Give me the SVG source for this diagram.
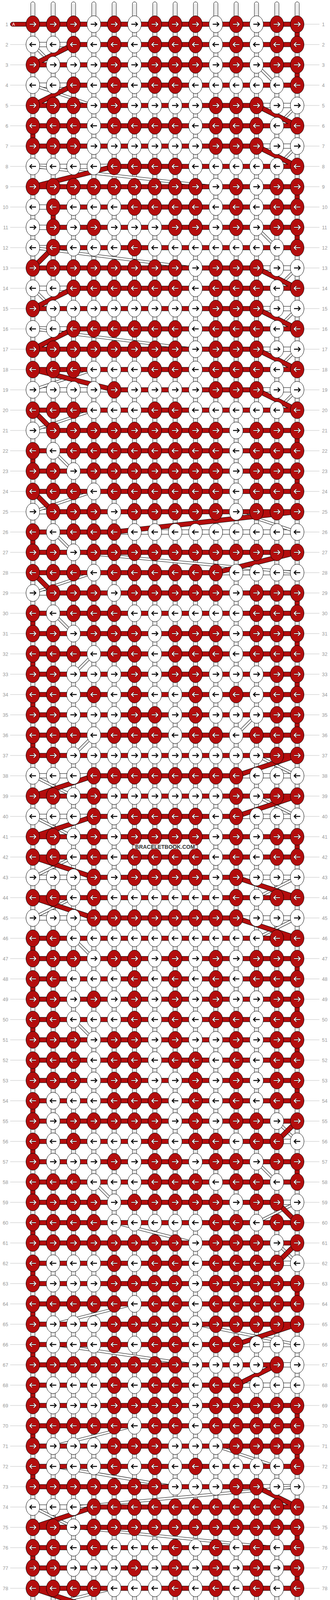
<svg xmlns="http://www.w3.org/2000/svg" xmlns:xlink="http://www.w3.org/1999/xlink" width="844" height="4336" viewBox="0 0 844 4336">
<style>
.lb{font-family:"Liberation Sans",Arial,sans-serif;font-size:12.5px;fill:#999}
.ln{fill:none;stroke:#c0c0c0;stroke-width:1}
.wp{fill:#fff;stroke:#000;stroke-width:1}
.gl{fill:none;stroke:#b4b4b4;stroke-width:1}
.ob{fill:none;stroke:#000;stroke-width:12.7}
.wf{fill:none;stroke:#fff;stroke-width:10.7}
.rf{fill:none;stroke:#b40d0d;stroke-width:10.7}
.so{fill:none;stroke:#000;stroke-width:7}
.sf{fill:none;stroke:#fff;stroke-width:5}
.kr{fill:#b40d0d;stroke:#000;stroke-width:1}
.kw{fill:#fff;stroke:#000;stroke-width:1}
.ao{fill:none;stroke:#300;stroke-width:3.8}
.aw{fill:none;stroke:#fff;stroke-width:2.2}
.ab{fill:none;stroke:#000;stroke-width:2.4}
.pl{fill:#b40d0d;stroke:#000;stroke-width:1}
.pa{font-family:"Liberation Sans",Arial,sans-serif;font-size:11px;fill:#fff}
.wm{font-family:"Liberation Sans",Arial,sans-serif;font-size:15px;font-weight:bold;fill:#333}
</style>
<defs>
<path id="ar" d="M-8 0H6.5M2.2-5.5L7.7 0L2.2 5.5"/>
<path id="al" d="M8 0H-6.5M-2.2-5.5L-7.7 0L-2.2 5.5"/>
<g id="rr"><ellipse class="kr" rx="17.5" ry="21.7"/><use href="#ar" class="ao"/><use href="#ar" class="aw"/></g>
<g id="wr"><ellipse class="kw" rx="17.5" ry="21.7"/><use href="#ar" class="ab"/></g>
<g id="rl"><ellipse class="kr" rx="17.5" ry="21.7"/><use href="#al" class="ao"/><use href="#al" class="aw"/></g>
<g id="wl"><ellipse class="kw" rx="17.5" ry="21.7"/><use href="#al" class="ab"/></g>
<path id="ld" d="M26 0h40.5M777.5 0h39.5"/>
<path id="ldr" d="M777.5 0h39.5"/>
<path id="wbar" d="M84 114H188M84 218H188M84 426H292M84 530H136M84 582H136M84 634H136M84 738H188M84 842H188M84 998H292M84 1102H136M84 1310H136M84 1518H136M84 1986H240M84 2090H240M84 2246H240M84 2350H240M84 3858H240M84 4118H240M84 4170H136M84 4222H240M656 270H760M656 374H760M656 686H760M656 790H760M656 894H760M656 998H760M292 1362H760M552 1466H760M604 1986H760M604 2090H760M604 2246H760M604 2350H760M708 2922H760M708 3078H760M708 3234H760M604 3442H760M708 3494H760M604 3546H760M656 3806H760M656 4222H760"/>
<path id="wstr" d="M84 114L136 166M656 166L708 218M84 218L240 270M760 270L708 322M760 374L708 426M84 426L552 478M656 582L708 634M84 634L500 686M760 686L708 738M84 738L136 790M760 790L708 842M84 842L500 894M760 894L708 946M240 946L84 998M760 998L708 1050M240 1050L84 1102M136 1154L188 1206M240 1258L84 1310M604 1310L760 1362M136 1362L188 1414M188 1414L760 1466M240 1466L84 1518M136 1570L188 1622M240 1674L188 1726M656 1830L604 1882M240 1882L188 1934M656 1934L760 1986M84 1986L188 2038M656 2038L760 2090M84 2090L188 2142M188 2194L84 2246M760 2246L656 2298M188 2298L84 2350M760 2350L656 2402M188 2402L240 2454M188 2610L240 2662M708 2870L760 2922M656 2974L708 3026M240 3026L292 3078M760 3078L656 3130M292 3130L500 3182M708 3182L760 3234M344 3338L136 3390M500 3390L760 3442M136 3442L500 3494M344 3650L136 3702M552 3702L708 3754M136 3754L448 3806M760 3806L188 3858M84 3858L188 3910M188 3910L708 3962M292 4066L84 4118M188 4118L708 4170M760 4222L708 4274"/>
<path id="red" d="M84 62H760M188 114H760M84 166H760M188 218H760M84 270H656M84 322H760M84 374H656M292 426H760M84 478H760M136 530H760M136 582H760M136 634H760M84 686H656M188 738H760M84 790H656M188 842H760M84 894H656M84 946H760M292 998H656M84 1050H760M136 1102H760M84 1154H760M84 1206H760M84 1258H760M136 1310H760M84 1362H292M84 1414H760M84 1466H552M136 1518H760M84 1570H760M84 1622H760M84 1674H760M84 1726H760M84 1778H760M84 1830H760M84 1882H760M84 1934H760M240 1986H604M84 2038H760M240 2090H604M84 2142H760M84 2194H760M240 2246H604M84 2298H760M240 2350H604M84 2402H760M84 2454H760M84 2506H760M84 2558H760M84 2610H760M84 2662H760M84 2714H760M84 2766H760M84 2818H760M84 2870H760M84 2922H708M84 2974H760M84 3026H760M84 3078H708M84 3130H760M84 3182H760M84 3234H708M84 3286H760M84 3338H760M84 3390H760M84 3442H604M84 3494H708M84 3546H604M84 3598H760M84 3650H760M84 3702H760M84 3754H760M84 3806H656M240 3858H760M84 3910H760M84 3962H760M84 4014H760M84 4066H760M240 4118H760M136 4170H760M240 4222H656M84 4274H760M760 62V114M188 114L84 166M760 166V218M188 218L84 270M656 270L760 322M84 322V374M656 374L760 426M292 426L84 478M760 478V530M136 530V582M760 582V634M136 634L84 686M656 686L760 738M188 738L84 790M656 790L760 842M188 842L84 894M656 894L760 946M84 946L292 998M656 998L760 1050M84 1050L136 1102M760 1102V1154M84 1154V1206M760 1206V1258M84 1258L136 1310M760 1310L292 1362M84 1362V1414M760 1414L552 1466M84 1466L136 1518M760 1518V1570M84 1570V1622M760 1622V1674M84 1674V1726M760 1726V1778M84 1778V1830M760 1830V1882M84 1882V1934M760 1934L604 1986M240 1986L84 2038M760 2038L604 2090M240 2090L84 2142M760 2142V2194M84 2194L240 2246M604 2246L760 2298M84 2298L240 2350M604 2350L760 2402M84 2402V2454M760 2454V2506M84 2506V2558M760 2558V2610M84 2610V2662M760 2662V2714M84 2714V2766M760 2766V2818M84 2818V2870M760 2870L708 2922M84 2922V2974M760 2974V3026M84 3026V3078M708 3078L760 3130M84 3130V3182M760 3182L708 3234M84 3234V3286M760 3286V3338M84 3338V3390M760 3390L604 3442M84 3442V3494M708 3494L604 3546M84 3546V3598M760 3598V3650M84 3650V3702M760 3702V3754M84 3754V3806M656 3806L760 3858M240 3858L84 3910M760 3910V3962M84 3962V4014M760 4014V4066M84 4066L240 4118M760 4118V4170M136 4170L240 4222M656 4222L760 4274"/>
</defs>
<rect width="844" height="4336" fill="#fff"/>
<g id="strings">
<rect class="wp" x="78.65" y="4.7" width="10.7" height="4326.6" rx="5.35"/>
<rect class="wp" x="130.65" y="4.7" width="10.7" height="4326.6" rx="5.35"/>
<rect class="wp" x="182.65" y="4.7" width="10.7" height="4326.6" rx="5.35"/>
<rect class="wp" x="234.65" y="4.7" width="10.7" height="4326.6" rx="5.35"/>
<rect class="wp" x="286.65" y="4.7" width="10.7" height="4326.6" rx="5.35"/>
<rect class="wp" x="338.65" y="4.7" width="10.7" height="4326.6" rx="5.35"/>
<rect class="wp" x="390.65" y="4.7" width="10.7" height="4326.6" rx="5.35"/>
<rect class="wp" x="442.65" y="4.7" width="10.7" height="4326.6" rx="5.35"/>
<rect class="wp" x="494.65" y="4.7" width="10.7" height="4326.6" rx="5.35"/>
<rect class="wp" x="546.65" y="4.7" width="10.7" height="4326.6" rx="5.35"/>
<rect class="wp" x="598.65" y="4.7" width="10.7" height="4326.6" rx="5.35"/>
<rect class="wp" x="650.65" y="4.7" width="10.7" height="4326.6" rx="5.35"/>
<rect class="wp" x="702.65" y="4.7" width="10.7" height="4326.6" rx="5.35"/>
<rect class="wp" x="754.65" y="4.7" width="10.7" height="4326.6" rx="5.35"/>
<path class="gl" d="M82 10V4326M86 10V4326M134 10V4326M138 10V4326M186 10V4326M190 10V4326M238 10V4326M242 10V4326M290 10V4326M294 10V4326M342 10V4326M346 10V4326M394 10V4326M398 10V4326M446 10V4326M450 10V4326M498 10V4326M502 10V4326M550 10V4326M554 10V4326M602 10V4326M606 10V4326M654 10V4326M658 10V4326M706 10V4326M710 10V4326M758 10V4326M762 10V4326"/>
</g>
<g id="connectors">
<use href="#wbar" class="ob"/><use href="#wbar" class="wf"/>
<use href="#wstr" class="so"/><use href="#wstr" class="sf"/>
<use href="#red" class="ob"/><use href="#red" class="rf"/>
<rect class="pl" x="26.5" y="56.65" width="62" height="10.7" rx="5.35"/>
<rect class="pl" x="26.5" y="4268.65" width="62" height="10.7" rx="5.35"/>
<text class="pa" x="31" y="66">A</text>
<text class="pa" x="31" y="4278">A</text>
</g>
<g id="knots">
<g id="row1" transform="translate(0,62)"><use href="#ldr" class="ln"/><text class="lb" x="21" y="4.5" text-anchor="end">1</text><text class="lb" x="823.5" y="4.5">1</text><use id="k1-1" href="#rr" x="84"/><use id="k1-2" href="#rr" x="136"/><use id="k1-3" href="#rr" x="188"/><use id="k1-4" href="#wr" x="240"/><use id="k1-5" href="#rr" x="292"/><use id="k1-6" href="#wr" x="344"/><use id="k1-7" href="#rr" x="396"/><use id="k1-8" href="#rr" x="448"/><use id="k1-9" href="#rr" x="500"/><use id="k1-10" href="#wr" x="552"/><use id="k1-11" href="#rr" x="604"/><use id="k1-12" href="#wr" x="656"/><use id="k1-13" href="#rr" x="708"/><use id="k1-14" href="#rr" x="760"/></g>
<g id="row2" transform="translate(0,114)"><use href="#ld" class="ln"/><text class="lb" x="21" y="4.5" text-anchor="end">2</text><text class="lb" x="823.5" y="4.5">2</text><use id="k2-1" href="#wl" x="84"/><use id="k2-2" href="#wl" x="136"/><use id="k2-3" href="#rl" x="188"/><use id="k2-4" href="#wl" x="240"/><use id="k2-5" href="#rl" x="292"/><use id="k2-6" href="#wl" x="344"/><use id="k2-7" href="#rl" x="396"/><use id="k2-8" href="#rl" x="448"/><use id="k2-9" href="#rl" x="500"/><use id="k2-10" href="#wl" x="552"/><use id="k2-11" href="#rl" x="604"/><use id="k2-12" href="#wl" x="656"/><use id="k2-13" href="#rl" x="708"/><use id="k2-14" href="#rl" x="760"/></g>
<g id="row3" transform="translate(0,166)"><use href="#ld" class="ln"/><text class="lb" x="21" y="4.5" text-anchor="end">3</text><text class="lb" x="823.5" y="4.5">3</text><use id="k3-1" href="#rr" x="84"/><use id="k3-2" href="#wr" x="136"/><use id="k3-3" href="#wr" x="188"/><use id="k3-4" href="#wr" x="240"/><use id="k3-5" href="#rr" x="292"/><use id="k3-6" href="#wr" x="344"/><use id="k3-7" href="#rr" x="396"/><use id="k3-8" href="#rr" x="448"/><use id="k3-9" href="#rr" x="500"/><use id="k3-10" href="#wr" x="552"/><use id="k3-11" href="#rr" x="604"/><use id="k3-12" href="#wr" x="656"/><use id="k3-13" href="#rr" x="708"/><use id="k3-14" href="#rr" x="760"/></g>
<g id="row4" transform="translate(0,218)"><use href="#ld" class="ln"/><text class="lb" x="21" y="4.5" text-anchor="end">4</text><text class="lb" x="823.5" y="4.5">4</text><use id="k4-1" href="#wl" x="84"/><use id="k4-2" href="#wl" x="136"/><use id="k4-3" href="#rl" x="188"/><use id="k4-4" href="#wl" x="240"/><use id="k4-5" href="#rl" x="292"/><use id="k4-6" href="#wl" x="344"/><use id="k4-7" href="#rl" x="396"/><use id="k4-8" href="#rl" x="448"/><use id="k4-9" href="#wl" x="500"/><use id="k4-10" href="#wl" x="552"/><use id="k4-11" href="#wl" x="604"/><use id="k4-12" href="#wl" x="656"/><use id="k4-13" href="#wl" x="708"/><use id="k4-14" href="#rl" x="760"/></g>
<g id="row5" transform="translate(0,270)"><use href="#ld" class="ln"/><text class="lb" x="21" y="4.5" text-anchor="end">5</text><text class="lb" x="823.5" y="4.5">5</text><use id="k5-1" href="#rr" x="84"/><use id="k5-2" href="#rr" x="136"/><use id="k5-3" href="#rr" x="188"/><use id="k5-4" href="#wr" x="240"/><use id="k5-5" href="#rr" x="292"/><use id="k5-6" href="#wr" x="344"/><use id="k5-7" href="#wr" x="396"/><use id="k5-8" href="#wr" x="448"/><use id="k5-9" href="#wr" x="500"/><use id="k5-10" href="#rr" x="552"/><use id="k5-11" href="#rr" x="604"/><use id="k5-12" href="#rr" x="656"/><use id="k5-13" href="#wr" x="708"/><use id="k5-14" href="#wr" x="760"/></g>
<g id="row6" transform="translate(0,322)"><use href="#ld" class="ln"/><text class="lb" x="21" y="4.5" text-anchor="end">6</text><text class="lb" x="823.5" y="4.5">6</text><use id="k6-1" href="#rl" x="84"/><use id="k6-2" href="#rl" x="136"/><use id="k6-3" href="#rl" x="188"/><use id="k6-4" href="#wl" x="240"/><use id="k6-5" href="#rl" x="292"/><use id="k6-6" href="#rl" x="344"/><use id="k6-7" href="#rl" x="396"/><use id="k6-8" href="#rl" x="448"/><use id="k6-9" href="#wl" x="500"/><use id="k6-10" href="#rl" x="552"/><use id="k6-11" href="#rl" x="604"/><use id="k6-12" href="#rl" x="656"/><use id="k6-13" href="#wl" x="708"/><use id="k6-14" href="#rl" x="760"/></g>
<g id="row7" transform="translate(0,374)"><use href="#ld" class="ln"/><text class="lb" x="21" y="4.5" text-anchor="end">7</text><text class="lb" x="823.5" y="4.5">7</text><use id="k7-1" href="#rr" x="84"/><use id="k7-2" href="#rr" x="136"/><use id="k7-3" href="#rr" x="188"/><use id="k7-4" href="#wr" x="240"/><use id="k7-5" href="#wr" x="292"/><use id="k7-6" href="#wr" x="344"/><use id="k7-7" href="#wr" x="396"/><use id="k7-8" href="#wr" x="448"/><use id="k7-9" href="#wr" x="500"/><use id="k7-10" href="#rr" x="552"/><use id="k7-11" href="#rr" x="604"/><use id="k7-12" href="#rr" x="656"/><use id="k7-13" href="#wr" x="708"/><use id="k7-14" href="#wr" x="760"/></g>
<g id="row8" transform="translate(0,426)"><use href="#ld" class="ln"/><text class="lb" x="21" y="4.5" text-anchor="end">8</text><text class="lb" x="823.5" y="4.5">8</text><use id="k8-1" href="#wl" x="84"/><use id="k8-2" href="#wl" x="136"/><use id="k8-3" href="#wl" x="188"/><use id="k8-4" href="#wl" x="240"/><use id="k8-5" href="#rl" x="292"/><use id="k8-6" href="#rl" x="344"/><use id="k8-7" href="#rl" x="396"/><use id="k8-8" href="#rl" x="448"/><use id="k8-9" href="#wl" x="500"/><use id="k8-10" href="#wl" x="552"/><use id="k8-11" href="#wl" x="604"/><use id="k8-12" href="#wl" x="656"/><use id="k8-13" href="#wl" x="708"/><use id="k8-14" href="#rl" x="760"/></g>
<g id="row9" transform="translate(0,478)"><use href="#ld" class="ln"/><text class="lb" x="21" y="4.5" text-anchor="end">9</text><text class="lb" x="823.5" y="4.5">9</text><use id="k9-1" href="#rr" x="84"/><use id="k9-2" href="#rr" x="136"/><use id="k9-3" href="#rr" x="188"/><use id="k9-4" href="#rr" x="240"/><use id="k9-5" href="#rr" x="292"/><use id="k9-6" href="#rr" x="344"/><use id="k9-7" href="#rr" x="396"/><use id="k9-8" href="#rr" x="448"/><use id="k9-9" href="#rr" x="500"/><use id="k9-10" href="#wr" x="552"/><use id="k9-11" href="#rr" x="604"/><use id="k9-12" href="#wr" x="656"/><use id="k9-13" href="#rr" x="708"/><use id="k9-14" href="#rr" x="760"/></g>
<g id="row10" transform="translate(0,530)"><use href="#ld" class="ln"/><text class="lb" x="21" y="4.5" text-anchor="end">10</text><text class="lb" x="823.5" y="4.5">10</text><use id="k10-1" href="#wl" x="84"/><use id="k10-2" href="#rl" x="136"/><use id="k10-3" href="#wl" x="188"/><use id="k10-4" href="#wl" x="240"/><use id="k10-5" href="#wl" x="292"/><use id="k10-6" href="#rl" x="344"/><use id="k10-7" href="#rl" x="396"/><use id="k10-8" href="#rl" x="448"/><use id="k10-9" href="#rl" x="500"/><use id="k10-10" href="#wl" x="552"/><use id="k10-11" href="#rl" x="604"/><use id="k10-12" href="#wl" x="656"/><use id="k10-13" href="#rl" x="708"/><use id="k10-14" href="#rl" x="760"/></g>
<g id="row11" transform="translate(0,582)"><use href="#ld" class="ln"/><text class="lb" x="21" y="4.5" text-anchor="end">11</text><text class="lb" x="823.5" y="4.5">11</text><use id="k11-1" href="#wr" x="84"/><use id="k11-2" href="#rr" x="136"/><use id="k11-3" href="#wr" x="188"/><use id="k11-4" href="#rr" x="240"/><use id="k11-5" href="#wr" x="292"/><use id="k11-6" href="#wr" x="344"/><use id="k11-7" href="#wr" x="396"/><use id="k11-8" href="#rr" x="448"/><use id="k11-9" href="#rr" x="500"/><use id="k11-10" href="#wr" x="552"/><use id="k11-11" href="#rr" x="604"/><use id="k11-12" href="#wr" x="656"/><use id="k11-13" href="#rr" x="708"/><use id="k11-14" href="#rr" x="760"/></g>
<g id="row12" transform="translate(0,634)"><use href="#ld" class="ln"/><text class="lb" x="21" y="4.5" text-anchor="end">12</text><text class="lb" x="823.5" y="4.5">12</text><use id="k12-1" href="#wl" x="84"/><use id="k12-2" href="#rl" x="136"/><use id="k12-3" href="#wl" x="188"/><use id="k12-4" href="#wl" x="240"/><use id="k12-5" href="#wl" x="292"/><use id="k12-6" href="#rl" x="344"/><use id="k12-7" href="#wl" x="396"/><use id="k12-8" href="#wl" x="448"/><use id="k12-9" href="#wl" x="500"/><use id="k12-10" href="#wl" x="552"/><use id="k12-11" href="#wl" x="604"/><use id="k12-12" href="#wl" x="656"/><use id="k12-13" href="#wl" x="708"/><use id="k12-14" href="#rl" x="760"/></g>
<g id="row13" transform="translate(0,686)"><use href="#ld" class="ln"/><text class="lb" x="21" y="4.5" text-anchor="end">13</text><text class="lb" x="823.5" y="4.5">13</text><use id="k13-1" href="#rr" x="84"/><use id="k13-2" href="#rr" x="136"/><use id="k13-3" href="#rr" x="188"/><use id="k13-4" href="#rr" x="240"/><use id="k13-5" href="#rr" x="292"/><use id="k13-6" href="#rr" x="344"/><use id="k13-7" href="#rr" x="396"/><use id="k13-8" href="#rr" x="448"/><use id="k13-9" href="#wr" x="500"/><use id="k13-10" href="#rr" x="552"/><use id="k13-11" href="#rr" x="604"/><use id="k13-12" href="#rr" x="656"/><use id="k13-13" href="#wr" x="708"/><use id="k13-14" href="#wr" x="760"/></g>
<g id="row14" transform="translate(0,738)"><use href="#ld" class="ln"/><text class="lb" x="21" y="4.5" text-anchor="end">14</text><text class="lb" x="823.5" y="4.5">14</text><use id="k14-1" href="#wl" x="84"/><use id="k14-2" href="#wl" x="136"/><use id="k14-3" href="#rl" x="188"/><use id="k14-4" href="#rl" x="240"/><use id="k14-5" href="#rl" x="292"/><use id="k14-6" href="#rl" x="344"/><use id="k14-7" href="#rl" x="396"/><use id="k14-8" href="#rl" x="448"/><use id="k14-9" href="#wl" x="500"/><use id="k14-10" href="#rl" x="552"/><use id="k14-11" href="#rl" x="604"/><use id="k14-12" href="#rl" x="656"/><use id="k14-13" href="#wl" x="708"/><use id="k14-14" href="#rl" x="760"/></g>
<g id="row15" transform="translate(0,790)"><use href="#ld" class="ln"/><text class="lb" x="21" y="4.5" text-anchor="end">15</text><text class="lb" x="823.5" y="4.5">15</text><use id="k15-1" href="#rr" x="84"/><use id="k15-2" href="#wr" x="136"/><use id="k15-3" href="#wr" x="188"/><use id="k15-4" href="#wr" x="240"/><use id="k15-5" href="#wr" x="292"/><use id="k15-6" href="#wr" x="344"/><use id="k15-7" href="#wr" x="396"/><use id="k15-8" href="#wr" x="448"/><use id="k15-9" href="#wr" x="500"/><use id="k15-10" href="#rr" x="552"/><use id="k15-11" href="#rr" x="604"/><use id="k15-12" href="#rr" x="656"/><use id="k15-13" href="#wr" x="708"/><use id="k15-14" href="#wr" x="760"/></g>
<g id="row16" transform="translate(0,842)"><use href="#ld" class="ln"/><text class="lb" x="21" y="4.5" text-anchor="end">16</text><text class="lb" x="823.5" y="4.5">16</text><use id="k16-1" href="#wl" x="84"/><use id="k16-2" href="#wl" x="136"/><use id="k16-3" href="#rl" x="188"/><use id="k16-4" href="#rl" x="240"/><use id="k16-5" href="#rl" x="292"/><use id="k16-6" href="#rl" x="344"/><use id="k16-7" href="#rl" x="396"/><use id="k16-8" href="#rl" x="448"/><use id="k16-9" href="#wl" x="500"/><use id="k16-10" href="#rl" x="552"/><use id="k16-11" href="#rl" x="604"/><use id="k16-12" href="#rl" x="656"/><use id="k16-13" href="#wl" x="708"/><use id="k16-14" href="#rl" x="760"/></g>
<g id="row17" transform="translate(0,894)"><use href="#ld" class="ln"/><text class="lb" x="21" y="4.5" text-anchor="end">17</text><text class="lb" x="823.5" y="4.5">17</text><use id="k17-1" href="#rr" x="84"/><use id="k17-2" href="#rr" x="136"/><use id="k17-3" href="#rr" x="188"/><use id="k17-4" href="#rr" x="240"/><use id="k17-5" href="#rr" x="292"/><use id="k17-6" href="#rr" x="344"/><use id="k17-7" href="#rr" x="396"/><use id="k17-8" href="#rr" x="448"/><use id="k17-9" href="#wr" x="500"/><use id="k17-10" href="#rr" x="552"/><use id="k17-11" href="#rr" x="604"/><use id="k17-12" href="#rr" x="656"/><use id="k17-13" href="#wr" x="708"/><use id="k17-14" href="#wr" x="760"/></g>
<g id="row18" transform="translate(0,946)"><use href="#ld" class="ln"/><text class="lb" x="21" y="4.5" text-anchor="end">18</text><text class="lb" x="823.5" y="4.5">18</text><use id="k18-1" href="#rl" x="84"/><use id="k18-2" href="#rl" x="136"/><use id="k18-3" href="#rl" x="188"/><use id="k18-4" href="#wl" x="240"/><use id="k18-5" href="#wl" x="292"/><use id="k18-6" href="#wl" x="344"/><use id="k18-7" href="#rl" x="396"/><use id="k18-8" href="#rl" x="448"/><use id="k18-9" href="#wl" x="500"/><use id="k18-10" href="#rl" x="552"/><use id="k18-11" href="#rl" x="604"/><use id="k18-12" href="#rl" x="656"/><use id="k18-13" href="#wl" x="708"/><use id="k18-14" href="#rl" x="760"/></g>
<g id="row19" transform="translate(0,998)"><use href="#ld" class="ln"/><text class="lb" x="21" y="4.5" text-anchor="end">19</text><text class="lb" x="823.5" y="4.5">19</text><use id="k19-1" href="#wr" x="84"/><use id="k19-2" href="#wr" x="136"/><use id="k19-3" href="#wr" x="188"/><use id="k19-4" href="#wr" x="240"/><use id="k19-5" href="#rr" x="292"/><use id="k19-6" href="#wr" x="344"/><use id="k19-7" href="#wr" x="396"/><use id="k19-8" href="#wr" x="448"/><use id="k19-9" href="#wr" x="500"/><use id="k19-10" href="#rr" x="552"/><use id="k19-11" href="#rr" x="604"/><use id="k19-12" href="#rr" x="656"/><use id="k19-13" href="#wr" x="708"/><use id="k19-14" href="#wr" x="760"/></g>
<g id="row20" transform="translate(0,1050)"><use href="#ld" class="ln"/><text class="lb" x="21" y="4.5" text-anchor="end">20</text><text class="lb" x="823.5" y="4.5">20</text><use id="k20-1" href="#rl" x="84"/><use id="k20-2" href="#rl" x="136"/><use id="k20-3" href="#rl" x="188"/><use id="k20-4" href="#wl" x="240"/><use id="k20-5" href="#wl" x="292"/><use id="k20-6" href="#wl" x="344"/><use id="k20-7" href="#rl" x="396"/><use id="k20-8" href="#rl" x="448"/><use id="k20-9" href="#wl" x="500"/><use id="k20-10" href="#wl" x="552"/><use id="k20-11" href="#wl" x="604"/><use id="k20-12" href="#wl" x="656"/><use id="k20-13" href="#wl" x="708"/><use id="k20-14" href="#rl" x="760"/></g>
<g id="row21" transform="translate(0,1102)"><use href="#ld" class="ln"/><text class="lb" x="21" y="4.5" text-anchor="end">21</text><text class="lb" x="823.5" y="4.5">21</text><use id="k21-1" href="#wr" x="84"/><use id="k21-2" href="#rr" x="136"/><use id="k21-3" href="#rr" x="188"/><use id="k21-4" href="#rr" x="240"/><use id="k21-5" href="#rr" x="292"/><use id="k21-6" href="#rr" x="344"/><use id="k21-7" href="#rr" x="396"/><use id="k21-8" href="#rr" x="448"/><use id="k21-9" href="#rr" x="500"/><use id="k21-10" href="#rr" x="552"/><use id="k21-11" href="#wr" x="604"/><use id="k21-12" href="#rr" x="656"/><use id="k21-13" href="#rr" x="708"/><use id="k21-14" href="#rr" x="760"/></g>
<g id="row22" transform="translate(0,1154)"><use href="#ld" class="ln"/><text class="lb" x="21" y="4.5" text-anchor="end">22</text><text class="lb" x="823.5" y="4.5">22</text><use id="k22-1" href="#rl" x="84"/><use id="k22-2" href="#wl" x="136"/><use id="k22-3" href="#rl" x="188"/><use id="k22-4" href="#rl" x="240"/><use id="k22-5" href="#rl" x="292"/><use id="k22-6" href="#rl" x="344"/><use id="k22-7" href="#rl" x="396"/><use id="k22-8" href="#rl" x="448"/><use id="k22-9" href="#rl" x="500"/><use id="k22-10" href="#rl" x="552"/><use id="k22-11" href="#wl" x="604"/><use id="k22-12" href="#rl" x="656"/><use id="k22-13" href="#rl" x="708"/><use id="k22-14" href="#rl" x="760"/></g>
<g id="row23" transform="translate(0,1206)"><use href="#ld" class="ln"/><text class="lb" x="21" y="4.5" text-anchor="end">23</text><text class="lb" x="823.5" y="4.5">23</text><use id="k23-1" href="#rr" x="84"/><use id="k23-2" href="#rr" x="136"/><use id="k23-3" href="#wr" x="188"/><use id="k23-4" href="#rr" x="240"/><use id="k23-5" href="#rr" x="292"/><use id="k23-6" href="#rr" x="344"/><use id="k23-7" href="#rr" x="396"/><use id="k23-8" href="#rr" x="448"/><use id="k23-9" href="#rr" x="500"/><use id="k23-10" href="#rr" x="552"/><use id="k23-11" href="#wr" x="604"/><use id="k23-12" href="#rr" x="656"/><use id="k23-13" href="#rr" x="708"/><use id="k23-14" href="#rr" x="760"/></g>
<g id="row24" transform="translate(0,1258)"><use href="#ld" class="ln"/><text class="lb" x="21" y="4.5" text-anchor="end">24</text><text class="lb" x="823.5" y="4.5">24</text><use id="k24-1" href="#rl" x="84"/><use id="k24-2" href="#rl" x="136"/><use id="k24-3" href="#rl" x="188"/><use id="k24-4" href="#wl" x="240"/><use id="k24-5" href="#rl" x="292"/><use id="k24-6" href="#rl" x="344"/><use id="k24-7" href="#rl" x="396"/><use id="k24-8" href="#rl" x="448"/><use id="k24-9" href="#rl" x="500"/><use id="k24-10" href="#rl" x="552"/><use id="k24-11" href="#wl" x="604"/><use id="k24-12" href="#rl" x="656"/><use id="k24-13" href="#rl" x="708"/><use id="k24-14" href="#rl" x="760"/></g>
<g id="row25" transform="translate(0,1310)"><use href="#ld" class="ln"/><text class="lb" x="21" y="4.5" text-anchor="end">25</text><text class="lb" x="823.5" y="4.5">25</text><use id="k25-1" href="#wr" x="84"/><use id="k25-2" href="#rr" x="136"/><use id="k25-3" href="#rr" x="188"/><use id="k25-4" href="#rr" x="240"/><use id="k25-5" href="#wr" x="292"/><use id="k25-6" href="#rr" x="344"/><use id="k25-7" href="#rr" x="396"/><use id="k25-8" href="#rr" x="448"/><use id="k25-9" href="#rr" x="500"/><use id="k25-10" href="#rr" x="552"/><use id="k25-11" href="#wr" x="604"/><use id="k25-12" href="#rr" x="656"/><use id="k25-13" href="#rr" x="708"/><use id="k25-14" href="#rr" x="760"/></g>
<g id="row26" transform="translate(0,1362)"><use href="#ld" class="ln"/><text class="lb" x="21" y="4.5" text-anchor="end">26</text><text class="lb" x="823.5" y="4.5">26</text><use id="k26-1" href="#rl" x="84"/><use id="k26-2" href="#wl" x="136"/><use id="k26-3" href="#rl" x="188"/><use id="k26-4" href="#rl" x="240"/><use id="k26-5" href="#rl" x="292"/><use id="k26-6" href="#wl" x="344"/><use id="k26-7" href="#wl" x="396"/><use id="k26-8" href="#wl" x="448"/><use id="k26-9" href="#wl" x="500"/><use id="k26-10" href="#wl" x="552"/><use id="k26-11" href="#wl" x="604"/><use id="k26-12" href="#wl" x="656"/><use id="k26-13" href="#wl" x="708"/><use id="k26-14" href="#wl" x="760"/></g>
<g id="row27" transform="translate(0,1414)"><use href="#ld" class="ln"/><text class="lb" x="21" y="4.5" text-anchor="end">27</text><text class="lb" x="823.5" y="4.5">27</text><use id="k27-1" href="#rr" x="84"/><use id="k27-2" href="#rr" x="136"/><use id="k27-3" href="#wr" x="188"/><use id="k27-4" href="#rr" x="240"/><use id="k27-5" href="#rr" x="292"/><use id="k27-6" href="#rr" x="344"/><use id="k27-7" href="#rr" x="396"/><use id="k27-8" href="#rr" x="448"/><use id="k27-9" href="#rr" x="500"/><use id="k27-10" href="#rr" x="552"/><use id="k27-11" href="#rr" x="604"/><use id="k27-12" href="#rr" x="656"/><use id="k27-13" href="#rr" x="708"/><use id="k27-14" href="#rr" x="760"/></g>
<g id="row28" transform="translate(0,1466)"><use href="#ld" class="ln"/><text class="lb" x="21" y="4.5" text-anchor="end">28</text><text class="lb" x="823.5" y="4.5">28</text><use id="k28-1" href="#rl" x="84"/><use id="k28-2" href="#rl" x="136"/><use id="k28-3" href="#rl" x="188"/><use id="k28-4" href="#wl" x="240"/><use id="k28-5" href="#rl" x="292"/><use id="k28-6" href="#rl" x="344"/><use id="k28-7" href="#rl" x="396"/><use id="k28-8" href="#rl" x="448"/><use id="k28-9" href="#rl" x="500"/><use id="k28-10" href="#rl" x="552"/><use id="k28-11" href="#wl" x="604"/><use id="k28-12" href="#wl" x="656"/><use id="k28-13" href="#wl" x="708"/><use id="k28-14" href="#wl" x="760"/></g>
<g id="row29" transform="translate(0,1518)"><use href="#ld" class="ln"/><text class="lb" x="21" y="4.5" text-anchor="end">29</text><text class="lb" x="823.5" y="4.5">29</text><use id="k29-1" href="#wr" x="84"/><use id="k29-2" href="#rr" x="136"/><use id="k29-3" href="#rr" x="188"/><use id="k29-4" href="#rr" x="240"/><use id="k29-5" href="#wr" x="292"/><use id="k29-6" href="#rr" x="344"/><use id="k29-7" href="#rr" x="396"/><use id="k29-8" href="#rr" x="448"/><use id="k29-9" href="#rr" x="500"/><use id="k29-10" href="#rr" x="552"/><use id="k29-11" href="#wr" x="604"/><use id="k29-12" href="#rr" x="656"/><use id="k29-13" href="#rr" x="708"/><use id="k29-14" href="#rr" x="760"/></g>
<g id="row30" transform="translate(0,1570)"><use href="#ld" class="ln"/><text class="lb" x="21" y="4.5" text-anchor="end">30</text><text class="lb" x="823.5" y="4.5">30</text><use id="k30-1" href="#rl" x="84"/><use id="k30-2" href="#wl" x="136"/><use id="k30-3" href="#rl" x="188"/><use id="k30-4" href="#rl" x="240"/><use id="k30-5" href="#rl" x="292"/><use id="k30-6" href="#wl" x="344"/><use id="k30-7" href="#wl" x="396"/><use id="k30-8" href="#wl" x="448"/><use id="k30-9" href="#wl" x="500"/><use id="k30-10" href="#wl" x="552"/><use id="k30-11" href="#wl" x="604"/><use id="k30-12" href="#rl" x="656"/><use id="k30-13" href="#rl" x="708"/><use id="k30-14" href="#rl" x="760"/></g>
<g id="row31" transform="translate(0,1622)"><use href="#ld" class="ln"/><text class="lb" x="21" y="4.5" text-anchor="end">31</text><text class="lb" x="823.5" y="4.5">31</text><use id="k31-1" href="#rr" x="84"/><use id="k31-2" href="#rr" x="136"/><use id="k31-3" href="#wr" x="188"/><use id="k31-4" href="#rr" x="240"/><use id="k31-5" href="#rr" x="292"/><use id="k31-6" href="#rr" x="344"/><use id="k31-7" href="#wr" x="396"/><use id="k31-8" href="#rr" x="448"/><use id="k31-9" href="#rr" x="500"/><use id="k31-10" href="#rr" x="552"/><use id="k31-11" href="#wr" x="604"/><use id="k31-12" href="#rr" x="656"/><use id="k31-13" href="#rr" x="708"/><use id="k31-14" href="#rr" x="760"/></g>
<g id="row32" transform="translate(0,1674)"><use href="#ld" class="ln"/><text class="lb" x="21" y="4.5" text-anchor="end">32</text><text class="lb" x="823.5" y="4.5">32</text><use id="k32-1" href="#rl" x="84"/><use id="k32-2" href="#rl" x="136"/><use id="k32-3" href="#rl" x="188"/><use id="k32-4" href="#wl" x="240"/><use id="k32-5" href="#rl" x="292"/><use id="k32-6" href="#rl" x="344"/><use id="k32-7" href="#wl" x="396"/><use id="k32-8" href="#rl" x="448"/><use id="k32-9" href="#rl" x="500"/><use id="k32-10" href="#rl" x="552"/><use id="k32-11" href="#wl" x="604"/><use id="k32-12" href="#rl" x="656"/><use id="k32-13" href="#rl" x="708"/><use id="k32-14" href="#rl" x="760"/></g>
<g id="row33" transform="translate(0,1726)"><use href="#ld" class="ln"/><text class="lb" x="21" y="4.5" text-anchor="end">33</text><text class="lb" x="823.5" y="4.5">33</text><use id="k33-1" href="#rr" x="84"/><use id="k33-2" href="#rr" x="136"/><use id="k33-3" href="#wr" x="188"/><use id="k33-4" href="#wr" x="240"/><use id="k33-5" href="#wr" x="292"/><use id="k33-6" href="#rr" x="344"/><use id="k33-7" href="#wr" x="396"/><use id="k33-8" href="#rr" x="448"/><use id="k33-9" href="#rr" x="500"/><use id="k33-10" href="#wr" x="552"/><use id="k33-11" href="#wr" x="604"/><use id="k33-12" href="#wr" x="656"/><use id="k33-13" href="#rr" x="708"/><use id="k33-14" href="#rr" x="760"/></g>
<g id="row34" transform="translate(0,1778)"><use href="#ld" class="ln"/><text class="lb" x="21" y="4.5" text-anchor="end">34</text><text class="lb" x="823.5" y="4.5">34</text><use id="k34-1" href="#rl" x="84"/><use id="k34-2" href="#rl" x="136"/><use id="k34-3" href="#wl" x="188"/><use id="k34-4" href="#rl" x="240"/><use id="k34-5" href="#wl" x="292"/><use id="k34-6" href="#rl" x="344"/><use id="k34-7" href="#wl" x="396"/><use id="k34-8" href="#wl" x="448"/><use id="k34-9" href="#rl" x="500"/><use id="k34-10" href="#wl" x="552"/><use id="k34-11" href="#rl" x="604"/><use id="k34-12" href="#wl" x="656"/><use id="k34-13" href="#rl" x="708"/><use id="k34-14" href="#rl" x="760"/></g>
<g id="row35" transform="translate(0,1830)"><use href="#ld" class="ln"/><text class="lb" x="21" y="4.5" text-anchor="end">35</text><text class="lb" x="823.5" y="4.5">35</text><use id="k35-1" href="#rr" x="84"/><use id="k35-2" href="#rr" x="136"/><use id="k35-3" href="#wr" x="188"/><use id="k35-4" href="#wr" x="240"/><use id="k35-5" href="#wr" x="292"/><use id="k35-6" href="#rr" x="344"/><use id="k35-7" href="#rr" x="396"/><use id="k35-8" href="#wr" x="448"/><use id="k35-9" href="#rr" x="500"/><use id="k35-10" href="#wr" x="552"/><use id="k35-11" href="#wr" x="604"/><use id="k35-12" href="#wr" x="656"/><use id="k35-13" href="#rr" x="708"/><use id="k35-14" href="#rr" x="760"/></g>
<g id="row36" transform="translate(0,1882)"><use href="#ld" class="ln"/><text class="lb" x="21" y="4.5" text-anchor="end">36</text><text class="lb" x="823.5" y="4.5">36</text><use id="k36-1" href="#rl" x="84"/><use id="k36-2" href="#rl" x="136"/><use id="k36-3" href="#rl" x="188"/><use id="k36-4" href="#wl" x="240"/><use id="k36-5" href="#rl" x="292"/><use id="k36-6" href="#rl" x="344"/><use id="k36-7" href="#rl" x="396"/><use id="k36-8" href="#wl" x="448"/><use id="k36-9" href="#rl" x="500"/><use id="k36-10" href="#rl" x="552"/><use id="k36-11" href="#wl" x="604"/><use id="k36-12" href="#rl" x="656"/><use id="k36-13" href="#rl" x="708"/><use id="k36-14" href="#rl" x="760"/></g>
<g id="row37" transform="translate(0,1934)"><use href="#ld" class="ln"/><text class="lb" x="21" y="4.5" text-anchor="end">37</text><text class="lb" x="823.5" y="4.5">37</text><use id="k37-1" href="#rr" x="84"/><use id="k37-2" href="#rr" x="136"/><use id="k37-3" href="#wr" x="188"/><use id="k37-4" href="#wr" x="240"/><use id="k37-5" href="#wr" x="292"/><use id="k37-6" href="#wr" x="344"/><use id="k37-7" href="#wr" x="396"/><use id="k37-8" href="#wr" x="448"/><use id="k37-9" href="#wr" x="500"/><use id="k37-10" href="#wr" x="552"/><use id="k37-11" href="#wr" x="604"/><use id="k37-12" href="#wr" x="656"/><use id="k37-13" href="#rr" x="708"/><use id="k37-14" href="#rr" x="760"/></g>
<g id="row38" transform="translate(0,1986)"><use href="#ld" class="ln"/><text class="lb" x="21" y="4.5" text-anchor="end">38</text><text class="lb" x="823.5" y="4.5">38</text><use id="k38-1" href="#wl" x="84"/><use id="k38-2" href="#wl" x="136"/><use id="k38-3" href="#wl" x="188"/><use id="k38-4" href="#rl" x="240"/><use id="k38-5" href="#rl" x="292"/><use id="k38-6" href="#rl" x="344"/><use id="k38-7" href="#rl" x="396"/><use id="k38-8" href="#rl" x="448"/><use id="k38-9" href="#rl" x="500"/><use id="k38-10" href="#rl" x="552"/><use id="k38-11" href="#rl" x="604"/><use id="k38-12" href="#wl" x="656"/><use id="k38-13" href="#wl" x="708"/><use id="k38-14" href="#wl" x="760"/></g>
<g id="row39" transform="translate(0,2038)"><use href="#ld" class="ln"/><text class="lb" x="21" y="4.5" text-anchor="end">39</text><text class="lb" x="823.5" y="4.5">39</text><use id="k39-1" href="#rr" x="84"/><use id="k39-2" href="#rr" x="136"/><use id="k39-3" href="#wr" x="188"/><use id="k39-4" href="#rr" x="240"/><use id="k39-5" href="#wr" x="292"/><use id="k39-6" href="#wr" x="344"/><use id="k39-7" href="#wr" x="396"/><use id="k39-8" href="#wr" x="448"/><use id="k39-9" href="#wr" x="500"/><use id="k39-10" href="#wr" x="552"/><use id="k39-11" href="#rr" x="604"/><use id="k39-12" href="#wr" x="656"/><use id="k39-13" href="#rr" x="708"/><use id="k39-14" href="#rr" x="760"/></g>
<g id="row40" transform="translate(0,2090)"><use href="#ld" class="ln"/><text class="lb" x="21" y="4.5" text-anchor="end">40</text><text class="lb" x="823.5" y="4.5">40</text><use id="k40-1" href="#wl" x="84"/><use id="k40-2" href="#wl" x="136"/><use id="k40-3" href="#wl" x="188"/><use id="k40-4" href="#rl" x="240"/><use id="k40-5" href="#wl" x="292"/><use id="k40-6" href="#rl" x="344"/><use id="k40-7" href="#rl" x="396"/><use id="k40-8" href="#rl" x="448"/><use id="k40-9" href="#rl" x="500"/><use id="k40-10" href="#wl" x="552"/><use id="k40-11" href="#rl" x="604"/><use id="k40-12" href="#wl" x="656"/><use id="k40-13" href="#wl" x="708"/><use id="k40-14" href="#wl" x="760"/></g>
<g id="row41" transform="translate(0,2142)"><use href="#ld" class="ln"/><text class="lb" x="21" y="4.5" text-anchor="end">41</text><text class="lb" x="823.5" y="4.5">41</text><use id="k41-1" href="#rr" x="84"/><use id="k41-2" href="#rr" x="136"/><use id="k41-3" href="#wr" x="188"/><use id="k41-4" href="#rr" x="240"/><use id="k41-5" href="#wr" x="292"/><use id="k41-6" href="#rr" x="344"/><use id="k41-7" href="#rr" x="396"/><use id="k41-8" href="#rr" x="448"/><use id="k41-9" href="#rr" x="500"/><use id="k41-10" href="#wr" x="552"/><use id="k41-11" href="#rr" x="604"/><use id="k41-12" href="#wr" x="656"/><use id="k41-13" href="#rr" x="708"/><use id="k41-14" href="#rr" x="760"/></g>
<g id="row42" transform="translate(0,2194)"><use href="#ld" class="ln"/><text class="lb" x="21" y="4.5" text-anchor="end">42</text><text class="lb" x="823.5" y="4.5">42</text><use id="k42-1" href="#rl" x="84"/><use id="k42-2" href="#rl" x="136"/><use id="k42-3" href="#wl" x="188"/><use id="k42-4" href="#rl" x="240"/><use id="k42-5" href="#wl" x="292"/><use id="k42-6" href="#rl" x="344"/><use id="k42-7" href="#rl" x="396"/><use id="k42-8" href="#rl" x="448"/><use id="k42-9" href="#rl" x="500"/><use id="k42-10" href="#wl" x="552"/><use id="k42-11" href="#rl" x="604"/><use id="k42-12" href="#wl" x="656"/><use id="k42-13" href="#rl" x="708"/><use id="k42-14" href="#rl" x="760"/></g>
<g id="row43" transform="translate(0,2246)"><use href="#ld" class="ln"/><text class="lb" x="21" y="4.5" text-anchor="end">43</text><text class="lb" x="823.5" y="4.5">43</text><use id="k43-1" href="#wr" x="84"/><use id="k43-2" href="#wr" x="136"/><use id="k43-3" href="#wr" x="188"/><use id="k43-4" href="#rr" x="240"/><use id="k43-5" href="#wr" x="292"/><use id="k43-6" href="#rr" x="344"/><use id="k43-7" href="#rr" x="396"/><use id="k43-8" href="#rr" x="448"/><use id="k43-9" href="#rr" x="500"/><use id="k43-10" href="#wr" x="552"/><use id="k43-11" href="#rr" x="604"/><use id="k43-12" href="#wr" x="656"/><use id="k43-13" href="#wr" x="708"/><use id="k43-14" href="#wr" x="760"/></g>
<g id="row44" transform="translate(0,2298)"><use href="#ld" class="ln"/><text class="lb" x="21" y="4.5" text-anchor="end">44</text><text class="lb" x="823.5" y="4.5">44</text><use id="k44-1" href="#rl" x="84"/><use id="k44-2" href="#rl" x="136"/><use id="k44-3" href="#wl" x="188"/><use id="k44-4" href="#rl" x="240"/><use id="k44-5" href="#wl" x="292"/><use id="k44-6" href="#wl" x="344"/><use id="k44-7" href="#wl" x="396"/><use id="k44-8" href="#wl" x="448"/><use id="k44-9" href="#wl" x="500"/><use id="k44-10" href="#wl" x="552"/><use id="k44-11" href="#rl" x="604"/><use id="k44-12" href="#wl" x="656"/><use id="k44-13" href="#rl" x="708"/><use id="k44-14" href="#rl" x="760"/></g>
<g id="row45" transform="translate(0,2350)"><use href="#ld" class="ln"/><text class="lb" x="21" y="4.5" text-anchor="end">45</text><text class="lb" x="823.5" y="4.5">45</text><use id="k45-1" href="#wr" x="84"/><use id="k45-2" href="#wr" x="136"/><use id="k45-3" href="#wr" x="188"/><use id="k45-4" href="#rr" x="240"/><use id="k45-5" href="#rr" x="292"/><use id="k45-6" href="#rr" x="344"/><use id="k45-7" href="#rr" x="396"/><use id="k45-8" href="#rr" x="448"/><use id="k45-9" href="#rr" x="500"/><use id="k45-10" href="#rr" x="552"/><use id="k45-11" href="#rr" x="604"/><use id="k45-12" href="#wr" x="656"/><use id="k45-13" href="#wr" x="708"/><use id="k45-14" href="#wr" x="760"/></g>
<g id="row46" transform="translate(0,2402)"><use href="#ld" class="ln"/><text class="lb" x="21" y="4.5" text-anchor="end">46</text><text class="lb" x="823.5" y="4.5">46</text><use id="k46-1" href="#rl" x="84"/><use id="k46-2" href="#rl" x="136"/><use id="k46-3" href="#wl" x="188"/><use id="k46-4" href="#wl" x="240"/><use id="k46-5" href="#wl" x="292"/><use id="k46-6" href="#wl" x="344"/><use id="k46-7" href="#wl" x="396"/><use id="k46-8" href="#wl" x="448"/><use id="k46-9" href="#wl" x="500"/><use id="k46-10" href="#wl" x="552"/><use id="k46-11" href="#wl" x="604"/><use id="k46-12" href="#wl" x="656"/><use id="k46-13" href="#rl" x="708"/><use id="k46-14" href="#rl" x="760"/></g>
<g id="row47" transform="translate(0,2454)"><use href="#ld" class="ln"/><text class="lb" x="21" y="4.5" text-anchor="end">47</text><text class="lb" x="823.5" y="4.5">47</text><use id="k47-1" href="#rr" x="84"/><use id="k47-2" href="#rr" x="136"/><use id="k47-3" href="#rr" x="188"/><use id="k47-4" href="#wr" x="240"/><use id="k47-5" href="#rr" x="292"/><use id="k47-6" href="#rr" x="344"/><use id="k47-7" href="#wr" x="396"/><use id="k47-8" href="#rr" x="448"/><use id="k47-9" href="#wr" x="500"/><use id="k47-10" href="#rr" x="552"/><use id="k47-11" href="#wr" x="604"/><use id="k47-12" href="#rr" x="656"/><use id="k47-13" href="#rr" x="708"/><use id="k47-14" href="#rr" x="760"/></g>
<g id="row48" transform="translate(0,2506)"><use href="#ld" class="ln"/><text class="lb" x="21" y="4.5" text-anchor="end">48</text><text class="lb" x="823.5" y="4.5">48</text><use id="k48-1" href="#rl" x="84"/><use id="k48-2" href="#rl" x="136"/><use id="k48-3" href="#wl" x="188"/><use id="k48-4" href="#wl" x="240"/><use id="k48-5" href="#wl" x="292"/><use id="k48-6" href="#rl" x="344"/><use id="k48-7" href="#wl" x="396"/><use id="k48-8" href="#rl" x="448"/><use id="k48-9" href="#wl" x="500"/><use id="k48-10" href="#rl" x="552"/><use id="k48-11" href="#wl" x="604"/><use id="k48-12" href="#rl" x="656"/><use id="k48-13" href="#rl" x="708"/><use id="k48-14" href="#rl" x="760"/></g>
<g id="row49" transform="translate(0,2558)"><use href="#ld" class="ln"/><text class="lb" x="21" y="4.5" text-anchor="end">49</text><text class="lb" x="823.5" y="4.5">49</text><use id="k49-1" href="#rr" x="84"/><use id="k49-2" href="#rr" x="136"/><use id="k49-3" href="#wr" x="188"/><use id="k49-4" href="#rr" x="240"/><use id="k49-5" href="#wr" x="292"/><use id="k49-6" href="#rr" x="344"/><use id="k49-7" href="#wr" x="396"/><use id="k49-8" href="#rr" x="448"/><use id="k49-9" href="#wr" x="500"/><use id="k49-10" href="#rr" x="552"/><use id="k49-11" href="#wr" x="604"/><use id="k49-12" href="#wr" x="656"/><use id="k49-13" href="#rr" x="708"/><use id="k49-14" href="#rr" x="760"/></g>
<g id="row50" transform="translate(0,2610)"><use href="#ld" class="ln"/><text class="lb" x="21" y="4.5" text-anchor="end">50</text><text class="lb" x="823.5" y="4.5">50</text><use id="k50-1" href="#rl" x="84"/><use id="k50-2" href="#rl" x="136"/><use id="k50-3" href="#wl" x="188"/><use id="k50-4" href="#wl" x="240"/><use id="k50-5" href="#wl" x="292"/><use id="k50-6" href="#rl" x="344"/><use id="k50-7" href="#wl" x="396"/><use id="k50-8" href="#rl" x="448"/><use id="k50-9" href="#wl" x="500"/><use id="k50-10" href="#rl" x="552"/><use id="k50-11" href="#rl" x="604"/><use id="k50-12" href="#wl" x="656"/><use id="k50-13" href="#rl" x="708"/><use id="k50-14" href="#rl" x="760"/></g>
<g id="row51" transform="translate(0,2662)"><use href="#ld" class="ln"/><text class="lb" x="21" y="4.5" text-anchor="end">51</text><text class="lb" x="823.5" y="4.5">51</text><use id="k51-1" href="#rr" x="84"/><use id="k51-2" href="#rr" x="136"/><use id="k51-3" href="#rr" x="188"/><use id="k51-4" href="#wr" x="240"/><use id="k51-5" href="#rr" x="292"/><use id="k51-6" href="#rr" x="344"/><use id="k51-7" href="#wr" x="396"/><use id="k51-8" href="#rr" x="448"/><use id="k51-9" href="#wr" x="500"/><use id="k51-10" href="#wr" x="552"/><use id="k51-11" href="#rr" x="604"/><use id="k51-12" href="#wr" x="656"/><use id="k51-13" href="#rr" x="708"/><use id="k51-14" href="#rr" x="760"/></g>
<g id="row52" transform="translate(0,2714)"><use href="#ld" class="ln"/><text class="lb" x="21" y="4.5" text-anchor="end">52</text><text class="lb" x="823.5" y="4.5">52</text><use id="k52-1" href="#rl" x="84"/><use id="k52-2" href="#rl" x="136"/><use id="k52-3" href="#rl" x="188"/><use id="k52-4" href="#wl" x="240"/><use id="k52-5" href="#rl" x="292"/><use id="k52-6" href="#rl" x="344"/><use id="k52-7" href="#wl" x="396"/><use id="k52-8" href="#rl" x="448"/><use id="k52-9" href="#rl" x="500"/><use id="k52-10" href="#wl" x="552"/><use id="k52-11" href="#rl" x="604"/><use id="k52-12" href="#wl" x="656"/><use id="k52-13" href="#rl" x="708"/><use id="k52-14" href="#rl" x="760"/></g>
<g id="row53" transform="translate(0,2766)"><use href="#ld" class="ln"/><text class="lb" x="21" y="4.5" text-anchor="end">53</text><text class="lb" x="823.5" y="4.5">53</text><use id="k53-1" href="#rr" x="84"/><use id="k53-2" href="#rr" x="136"/><use id="k53-3" href="#rr" x="188"/><use id="k53-4" href="#wr" x="240"/><use id="k53-5" href="#rr" x="292"/><use id="k53-6" href="#rr" x="344"/><use id="k53-7" href="#wr" x="396"/><use id="k53-8" href="#wr" x="448"/><use id="k53-9" href="#rr" x="500"/><use id="k53-10" href="#wr" x="552"/><use id="k53-11" href="#rr" x="604"/><use id="k53-12" href="#wr" x="656"/><use id="k53-13" href="#rr" x="708"/><use id="k53-14" href="#rr" x="760"/></g>
<g id="row54" transform="translate(0,2818)"><use href="#ld" class="ln"/><text class="lb" x="21" y="4.5" text-anchor="end">54</text><text class="lb" x="823.5" y="4.5">54</text><use id="k54-1" href="#rl" x="84"/><use id="k54-2" href="#wl" x="136"/><use id="k54-3" href="#wl" x="188"/><use id="k54-4" href="#wl" x="240"/><use id="k54-5" href="#rl" x="292"/><use id="k54-6" href="#rl" x="344"/><use id="k54-7" href="#rl" x="396"/><use id="k54-8" href="#wl" x="448"/><use id="k54-9" href="#rl" x="500"/><use id="k54-10" href="#wl" x="552"/><use id="k54-11" href="#rl" x="604"/><use id="k54-12" href="#wl" x="656"/><use id="k54-13" href="#rl" x="708"/><use id="k54-14" href="#rl" x="760"/></g>
<g id="row55" transform="translate(0,2870)"><use href="#ld" class="ln"/><text class="lb" x="21" y="4.5" text-anchor="end">55</text><text class="lb" x="823.5" y="4.5">55</text><use id="k55-1" href="#rr" x="84"/><use id="k55-2" href="#wr" x="136"/><use id="k55-3" href="#rr" x="188"/><use id="k55-4" href="#rr" x="240"/><use id="k55-5" href="#rr" x="292"/><use id="k55-6" href="#rr" x="344"/><use id="k55-7" href="#rr" x="396"/><use id="k55-8" href="#wr" x="448"/><use id="k55-9" href="#rr" x="500"/><use id="k55-10" href="#wr" x="552"/><use id="k55-11" href="#rr" x="604"/><use id="k55-12" href="#rr" x="656"/><use id="k55-13" href="#wr" x="708"/><use id="k55-14" href="#rr" x="760"/></g>
<g id="row56" transform="translate(0,2922)"><use href="#ld" class="ln"/><text class="lb" x="21" y="4.5" text-anchor="end">56</text><text class="lb" x="823.5" y="4.5">56</text><use id="k56-1" href="#rl" x="84"/><use id="k56-2" href="#wl" x="136"/><use id="k56-3" href="#rl" x="188"/><use id="k56-4" href="#wl" x="240"/><use id="k56-5" href="#wl" x="292"/><use id="k56-6" href="#wl" x="344"/><use id="k56-7" href="#rl" x="396"/><use id="k56-8" href="#wl" x="448"/><use id="k56-9" href="#rl" x="500"/><use id="k56-10" href="#rl" x="552"/><use id="k56-11" href="#wl" x="604"/><use id="k56-12" href="#rl" x="656"/><use id="k56-13" href="#rl" x="708"/><use id="k56-14" href="#wl" x="760"/></g>
<g id="row57" transform="translate(0,2974)"><use href="#ld" class="ln"/><text class="lb" x="21" y="4.5" text-anchor="end">57</text><text class="lb" x="823.5" y="4.5">57</text><use id="k57-1" href="#rr" x="84"/><use id="k57-2" href="#wr" x="136"/><use id="k57-3" href="#wr" x="188"/><use id="k57-4" href="#wr" x="240"/><use id="k57-5" href="#rr" x="292"/><use id="k57-6" href="#wr" x="344"/><use id="k57-7" href="#rr" x="396"/><use id="k57-8" href="#rr" x="448"/><use id="k57-9" href="#wr" x="500"/><use id="k57-10" href="#rr" x="552"/><use id="k57-11" href="#rr" x="604"/><use id="k57-12" href="#wr" x="656"/><use id="k57-13" href="#rr" x="708"/><use id="k57-14" href="#rr" x="760"/></g>
<g id="row58" transform="translate(0,3026)"><use href="#ld" class="ln"/><text class="lb" x="21" y="4.5" text-anchor="end">58</text><text class="lb" x="823.5" y="4.5">58</text><use id="k58-1" href="#rl" x="84"/><use id="k58-2" href="#rl" x="136"/><use id="k58-3" href="#rl" x="188"/><use id="k58-4" href="#wl" x="240"/><use id="k58-5" href="#wl" x="292"/><use id="k58-6" href="#wl" x="344"/><use id="k58-7" href="#rl" x="396"/><use id="k58-8" href="#rl" x="448"/><use id="k58-9" href="#rl" x="500"/><use id="k58-10" href="#wl" x="552"/><use id="k58-11" href="#rl" x="604"/><use id="k58-12" href="#rl" x="656"/><use id="k58-13" href="#wl" x="708"/><use id="k58-14" href="#rl" x="760"/></g>
<g id="row59" transform="translate(0,3078)"><use href="#ld" class="ln"/><text class="lb" x="21" y="4.5" text-anchor="end">59</text><text class="lb" x="823.5" y="4.5">59</text><use id="k59-1" href="#rr" x="84"/><use id="k59-2" href="#rr" x="136"/><use id="k59-3" href="#rr" x="188"/><use id="k59-4" href="#rr" x="240"/><use id="k59-5" href="#wr" x="292"/><use id="k59-6" href="#rr" x="344"/><use id="k59-7" href="#rr" x="396"/><use id="k59-8" href="#rr" x="448"/><use id="k59-9" href="#rr" x="500"/><use id="k59-10" href="#rr" x="552"/><use id="k59-11" href="#wr" x="604"/><use id="k59-12" href="#rr" x="656"/><use id="k59-13" href="#rr" x="708"/><use id="k59-14" href="#wr" x="760"/></g>
<g id="row60" transform="translate(0,3130)"><use href="#ld" class="ln"/><text class="lb" x="21" y="4.5" text-anchor="end">60</text><text class="lb" x="823.5" y="4.5">60</text><use id="k60-1" href="#rl" x="84"/><use id="k60-2" href="#rl" x="136"/><use id="k60-3" href="#rl" x="188"/><use id="k60-4" href="#rl" x="240"/><use id="k60-5" href="#wl" x="292"/><use id="k60-6" href="#wl" x="344"/><use id="k60-7" href="#wl" x="396"/><use id="k60-8" href="#wl" x="448"/><use id="k60-9" href="#wl" x="500"/><use id="k60-10" href="#rl" x="552"/><use id="k60-11" href="#rl" x="604"/><use id="k60-12" href="#wl" x="656"/><use id="k60-13" href="#rl" x="708"/><use id="k60-14" href="#rl" x="760"/></g>
<g id="row61" transform="translate(0,3182)"><use href="#ld" class="ln"/><text class="lb" x="21" y="4.5" text-anchor="end">61</text><text class="lb" x="823.5" y="4.5">61</text><use id="k61-1" href="#rr" x="84"/><use id="k61-2" href="#rr" x="136"/><use id="k61-3" href="#rr" x="188"/><use id="k61-4" href="#rr" x="240"/><use id="k61-5" href="#rr" x="292"/><use id="k61-6" href="#rr" x="344"/><use id="k61-7" href="#rr" x="396"/><use id="k61-8" href="#rr" x="448"/><use id="k61-9" href="#wr" x="500"/><use id="k61-10" href="#rr" x="552"/><use id="k61-11" href="#rr" x="604"/><use id="k61-12" href="#rr" x="656"/><use id="k61-13" href="#wr" x="708"/><use id="k61-14" href="#rr" x="760"/></g>
<g id="row62" transform="translate(0,3234)"><use href="#ld" class="ln"/><text class="lb" x="21" y="4.5" text-anchor="end">62</text><text class="lb" x="823.5" y="4.5">62</text><use id="k62-1" href="#rl" x="84"/><use id="k62-2" href="#wl" x="136"/><use id="k62-3" href="#wl" x="188"/><use id="k62-4" href="#wl" x="240"/><use id="k62-5" href="#rl" x="292"/><use id="k62-6" href="#wl" x="344"/><use id="k62-7" href="#rl" x="396"/><use id="k62-8" href="#rl" x="448"/><use id="k62-9" href="#wl" x="500"/><use id="k62-10" href="#rl" x="552"/><use id="k62-11" href="#rl" x="604"/><use id="k62-12" href="#rl" x="656"/><use id="k62-13" href="#rl" x="708"/><use id="k62-14" href="#wl" x="760"/></g>
<g id="row63" transform="translate(0,3286)"><use href="#ld" class="ln"/><text class="lb" x="21" y="4.5" text-anchor="end">63</text><text class="lb" x="823.5" y="4.5">63</text><use id="k63-1" href="#rr" x="84"/><use id="k63-2" href="#wr" x="136"/><use id="k63-3" href="#wr" x="188"/><use id="k63-4" href="#wr" x="240"/><use id="k63-5" href="#rr" x="292"/><use id="k63-6" href="#rr" x="344"/><use id="k63-7" href="#rr" x="396"/><use id="k63-8" href="#rr" x="448"/><use id="k63-9" href="#wr" x="500"/><use id="k63-10" href="#rr" x="552"/><use id="k63-11" href="#rr" x="604"/><use id="k63-12" href="#rr" x="656"/><use id="k63-13" href="#rr" x="708"/><use id="k63-14" href="#rr" x="760"/></g>
<g id="row64" transform="translate(0,3338)"><use href="#ld" class="ln"/><text class="lb" x="21" y="4.5" text-anchor="end">64</text><text class="lb" x="823.5" y="4.5">64</text><use id="k64-1" href="#rl" x="84"/><use id="k64-2" href="#rl" x="136"/><use id="k64-3" href="#rl" x="188"/><use id="k64-4" href="#rl" x="240"/><use id="k64-5" href="#rl" x="292"/><use id="k64-6" href="#wl" x="344"/><use id="k64-7" href="#rl" x="396"/><use id="k64-8" href="#rl" x="448"/><use id="k64-9" href="#wl" x="500"/><use id="k64-10" href="#rl" x="552"/><use id="k64-11" href="#rl" x="604"/><use id="k64-12" href="#rl" x="656"/><use id="k64-13" href="#rl" x="708"/><use id="k64-14" href="#rl" x="760"/></g>
<g id="row65" transform="translate(0,3390)"><use href="#ld" class="ln"/><text class="lb" x="21" y="4.5" text-anchor="end">65</text><text class="lb" x="823.5" y="4.5">65</text><use id="k65-1" href="#rr" x="84"/><use id="k65-2" href="#wr" x="136"/><use id="k65-3" href="#wr" x="188"/><use id="k65-4" href="#wr" x="240"/><use id="k65-5" href="#rr" x="292"/><use id="k65-6" href="#rr" x="344"/><use id="k65-7" href="#rr" x="396"/><use id="k65-8" href="#rr" x="448"/><use id="k65-9" href="#wr" x="500"/><use id="k65-10" href="#rr" x="552"/><use id="k65-11" href="#rr" x="604"/><use id="k65-12" href="#rr" x="656"/><use id="k65-13" href="#rr" x="708"/><use id="k65-14" href="#rr" x="760"/></g>
<g id="row66" transform="translate(0,3442)"><use href="#ld" class="ln"/><text class="lb" x="21" y="4.5" text-anchor="end">66</text><text class="lb" x="823.5" y="4.5">66</text><use id="k66-1" href="#rl" x="84"/><use id="k66-2" href="#wl" x="136"/><use id="k66-3" href="#wl" x="188"/><use id="k66-4" href="#wl" x="240"/><use id="k66-5" href="#rl" x="292"/><use id="k66-6" href="#wl" x="344"/><use id="k66-7" href="#rl" x="396"/><use id="k66-8" href="#rl" x="448"/><use id="k66-9" href="#wl" x="500"/><use id="k66-10" href="#rl" x="552"/><use id="k66-11" href="#rl" x="604"/><use id="k66-12" href="#wl" x="656"/><use id="k66-13" href="#wl" x="708"/><use id="k66-14" href="#wl" x="760"/></g>
<g id="row67" transform="translate(0,3494)"><use href="#ld" class="ln"/><text class="lb" x="21" y="4.5" text-anchor="end">67</text><text class="lb" x="823.5" y="4.5">67</text><use id="k67-1" href="#rr" x="84"/><use id="k67-2" href="#rr" x="136"/><use id="k67-3" href="#rr" x="188"/><use id="k67-4" href="#rr" x="240"/><use id="k67-5" href="#rr" x="292"/><use id="k67-6" href="#rr" x="344"/><use id="k67-7" href="#rr" x="396"/><use id="k67-8" href="#rr" x="448"/><use id="k67-9" href="#wr" x="500"/><use id="k67-10" href="#wr" x="552"/><use id="k67-11" href="#wr" x="604"/><use id="k67-12" href="#wr" x="656"/><use id="k67-13" href="#rr" x="708"/><use id="k67-14" href="#wr" x="760"/></g>
<g id="row68" transform="translate(0,3546)"><use href="#ld" class="ln"/><text class="lb" x="21" y="4.5" text-anchor="end">68</text><text class="lb" x="823.5" y="4.5">68</text><use id="k68-1" href="#rl" x="84"/><use id="k68-2" href="#wl" x="136"/><use id="k68-3" href="#wl" x="188"/><use id="k68-4" href="#wl" x="240"/><use id="k68-5" href="#rl" x="292"/><use id="k68-6" href="#wl" x="344"/><use id="k68-7" href="#rl" x="396"/><use id="k68-8" href="#rl" x="448"/><use id="k68-9" href="#wl" x="500"/><use id="k68-10" href="#rl" x="552"/><use id="k68-11" href="#rl" x="604"/><use id="k68-12" href="#wl" x="656"/><use id="k68-13" href="#wl" x="708"/><use id="k68-14" href="#wl" x="760"/></g>
<g id="row69" transform="translate(0,3598)"><use href="#ld" class="ln"/><text class="lb" x="21" y="4.5" text-anchor="end">69</text><text class="lb" x="823.5" y="4.5">69</text><use id="k69-1" href="#rr" x="84"/><use id="k69-2" href="#wr" x="136"/><use id="k69-3" href="#wr" x="188"/><use id="k69-4" href="#wr" x="240"/><use id="k69-5" href="#rr" x="292"/><use id="k69-6" href="#rr" x="344"/><use id="k69-7" href="#rr" x="396"/><use id="k69-8" href="#rr" x="448"/><use id="k69-9" href="#wr" x="500"/><use id="k69-10" href="#rr" x="552"/><use id="k69-11" href="#rr" x="604"/><use id="k69-12" href="#rr" x="656"/><use id="k69-13" href="#rr" x="708"/><use id="k69-14" href="#rr" x="760"/></g>
<g id="row70" transform="translate(0,3650)"><use href="#ld" class="ln"/><text class="lb" x="21" y="4.5" text-anchor="end">70</text><text class="lb" x="823.5" y="4.5">70</text><use id="k70-1" href="#rl" x="84"/><use id="k70-2" href="#rl" x="136"/><use id="k70-3" href="#rl" x="188"/><use id="k70-4" href="#rl" x="240"/><use id="k70-5" href="#rl" x="292"/><use id="k70-6" href="#wl" x="344"/><use id="k70-7" href="#rl" x="396"/><use id="k70-8" href="#rl" x="448"/><use id="k70-9" href="#wl" x="500"/><use id="k70-10" href="#rl" x="552"/><use id="k70-11" href="#rl" x="604"/><use id="k70-12" href="#rl" x="656"/><use id="k70-13" href="#rl" x="708"/><use id="k70-14" href="#rl" x="760"/></g>
<g id="row71" transform="translate(0,3702)"><use href="#ld" class="ln"/><text class="lb" x="21" y="4.5" text-anchor="end">71</text><text class="lb" x="823.5" y="4.5">71</text><use id="k71-1" href="#rr" x="84"/><use id="k71-2" href="#wr" x="136"/><use id="k71-3" href="#wr" x="188"/><use id="k71-4" href="#wr" x="240"/><use id="k71-5" href="#rr" x="292"/><use id="k71-6" href="#rr" x="344"/><use id="k71-7" href="#rr" x="396"/><use id="k71-8" href="#wr" x="448"/><use id="k71-9" href="#wr" x="500"/><use id="k71-10" href="#wr" x="552"/><use id="k71-11" href="#rr" x="604"/><use id="k71-12" href="#rr" x="656"/><use id="k71-13" href="#rr" x="708"/><use id="k71-14" href="#rr" x="760"/></g>
<g id="row72" transform="translate(0,3754)"><use href="#ld" class="ln"/><text class="lb" x="21" y="4.5" text-anchor="end">72</text><text class="lb" x="823.5" y="4.5">72</text><use id="k72-1" href="#rl" x="84"/><use id="k72-2" href="#wl" x="136"/><use id="k72-3" href="#wl" x="188"/><use id="k72-4" href="#wl" x="240"/><use id="k72-5" href="#rl" x="292"/><use id="k72-6" href="#wl" x="344"/><use id="k72-7" href="#rl" x="396"/><use id="k72-8" href="#wl" x="448"/><use id="k72-9" href="#rl" x="500"/><use id="k72-10" href="#wl" x="552"/><use id="k72-11" href="#wl" x="604"/><use id="k72-12" href="#wl" x="656"/><use id="k72-13" href="#wl" x="708"/><use id="k72-14" href="#rl" x="760"/></g>
<g id="row73" transform="translate(0,3806)"><use href="#ld" class="ln"/><text class="lb" x="21" y="4.5" text-anchor="end">73</text><text class="lb" x="823.5" y="4.5">73</text><use id="k73-1" href="#rr" x="84"/><use id="k73-2" href="#rr" x="136"/><use id="k73-3" href="#rr" x="188"/><use id="k73-4" href="#rr" x="240"/><use id="k73-5" href="#rr" x="292"/><use id="k73-6" href="#rr" x="344"/><use id="k73-7" href="#rr" x="396"/><use id="k73-8" href="#wr" x="448"/><use id="k73-9" href="#wr" x="500"/><use id="k73-10" href="#wr" x="552"/><use id="k73-11" href="#rr" x="604"/><use id="k73-12" href="#rr" x="656"/><use id="k73-13" href="#wr" x="708"/><use id="k73-14" href="#wr" x="760"/></g>
<g id="row74" transform="translate(0,3858)"><use href="#ld" class="ln"/><text class="lb" x="21" y="4.5" text-anchor="end">74</text><text class="lb" x="823.5" y="4.5">74</text><use id="k74-1" href="#wl" x="84"/><use id="k74-2" href="#wl" x="136"/><use id="k74-3" href="#wl" x="188"/><use id="k74-4" href="#rl" x="240"/><use id="k74-5" href="#rl" x="292"/><use id="k74-6" href="#rl" x="344"/><use id="k74-7" href="#rl" x="396"/><use id="k74-8" href="#rl" x="448"/><use id="k74-9" href="#rl" x="500"/><use id="k74-10" href="#rl" x="552"/><use id="k74-11" href="#rl" x="604"/><use id="k74-12" href="#rl" x="656"/><use id="k74-13" href="#rl" x="708"/><use id="k74-14" href="#rl" x="760"/></g>
<g id="row75" transform="translate(0,3910)"><use href="#ld" class="ln"/><text class="lb" x="21" y="4.5" text-anchor="end">75</text><text class="lb" x="823.5" y="4.5">75</text><use id="k75-1" href="#rr" x="84"/><use id="k75-2" href="#rr" x="136"/><use id="k75-3" href="#wr" x="188"/><use id="k75-4" href="#rr" x="240"/><use id="k75-5" href="#rr" x="292"/><use id="k75-6" href="#rr" x="344"/><use id="k75-7" href="#rr" x="396"/><use id="k75-8" href="#rr" x="448"/><use id="k75-9" href="#rr" x="500"/><use id="k75-10" href="#rr" x="552"/><use id="k75-11" href="#rr" x="604"/><use id="k75-12" href="#rr" x="656"/><use id="k75-13" href="#rr" x="708"/><use id="k75-14" href="#rr" x="760"/></g>
<g id="row76" transform="translate(0,3962)"><use href="#ld" class="ln"/><text class="lb" x="21" y="4.5" text-anchor="end">76</text><text class="lb" x="823.5" y="4.5">76</text><use id="k76-1" href="#rl" x="84"/><use id="k76-2" href="#rl" x="136"/><use id="k76-3" href="#wl" x="188"/><use id="k76-4" href="#rl" x="240"/><use id="k76-5" href="#wl" x="292"/><use id="k76-6" href="#wl" x="344"/><use id="k76-7" href="#wl" x="396"/><use id="k76-8" href="#rl" x="448"/><use id="k76-9" href="#wl" x="500"/><use id="k76-10" href="#rl" x="552"/><use id="k76-11" href="#wl" x="604"/><use id="k76-12" href="#rl" x="656"/><use id="k76-13" href="#wl" x="708"/><use id="k76-14" href="#rl" x="760"/></g>
<g id="row77" transform="translate(0,4014)"><use href="#ld" class="ln"/><text class="lb" x="21" y="4.5" text-anchor="end">77</text><text class="lb" x="823.5" y="4.5">77</text><use id="k77-1" href="#rr" x="84"/><use id="k77-2" href="#rr" x="136"/><use id="k77-3" href="#wr" x="188"/><use id="k77-4" href="#wr" x="240"/><use id="k77-5" href="#wr" x="292"/><use id="k77-6" href="#rr" x="344"/><use id="k77-7" href="#wr" x="396"/><use id="k77-8" href="#rr" x="448"/><use id="k77-9" href="#wr" x="500"/><use id="k77-10" href="#rr" x="552"/><use id="k77-11" href="#wr" x="604"/><use id="k77-12" href="#rr" x="656"/><use id="k77-13" href="#wr" x="708"/><use id="k77-14" href="#rr" x="760"/></g>
<g id="row78" transform="translate(0,4066)"><use href="#ld" class="ln"/><text class="lb" x="21" y="4.5" text-anchor="end">78</text><text class="lb" x="823.5" y="4.5">78</text><use id="k78-1" href="#rl" x="84"/><use id="k78-2" href="#rl" x="136"/><use id="k78-3" href="#rl" x="188"/><use id="k78-4" href="#rl" x="240"/><use id="k78-5" href="#wl" x="292"/><use id="k78-6" href="#wl" x="344"/><use id="k78-7" href="#wl" x="396"/><use id="k78-8" href="#rl" x="448"/><use id="k78-9" href="#wl" x="500"/><use id="k78-10" href="#rl" x="552"/><use id="k78-11" href="#wl" x="604"/><use id="k78-12" href="#rl" x="656"/><use id="k78-13" href="#wl" x="708"/><use id="k78-14" href="#rl" x="760"/></g>
<g id="row79" transform="translate(0,4118)"><use href="#ld" class="ln"/><text class="lb" x="21" y="4.5" text-anchor="end">79</text><text class="lb" x="823.5" y="4.5">79</text><use id="k79-1" href="#wr" x="84"/><use id="k79-2" href="#wr" x="136"/><use id="k79-3" href="#wr" x="188"/><use id="k79-4" href="#rr" x="240"/><use id="k79-5" href="#rr" x="292"/><use id="k79-6" href="#rr" x="344"/><use id="k79-7" href="#rr" x="396"/><use id="k79-8" href="#rr" x="448"/><use id="k79-9" href="#rr" x="500"/><use id="k79-10" href="#rr" x="552"/><use id="k79-11" href="#rr" x="604"/><use id="k79-12" href="#rr" x="656"/><use id="k79-13" href="#rr" x="708"/><use id="k79-14" href="#rr" x="760"/></g>
<g id="row80" transform="translate(0,4170)"><use href="#ld" class="ln"/><text class="lb" x="21" y="4.5" text-anchor="end">80</text><text class="lb" x="823.5" y="4.5">80</text><use id="k80-1" href="#wl" x="84"/><use id="k80-2" href="#rl" x="136"/><use id="k80-3" href="#wl" x="188"/><use id="k80-4" href="#wl" x="240"/><use id="k80-5" href="#wl" x="292"/><use id="k80-6" href="#wl" x="344"/><use id="k80-7" href="#rl" x="396"/><use id="k80-8" href="#wl" x="448"/><use id="k80-9" href="#wl" x="500"/><use id="k80-10" href="#wl" x="552"/><use id="k80-11" href="#wl" x="604"/><use id="k80-12" href="#wl" x="656"/><use id="k80-13" href="#wl" x="708"/><use id="k80-14" href="#rl" x="760"/></g>
<g id="row81" transform="translate(0,4222)"><use href="#ld" class="ln"/><text class="lb" x="21" y="4.5" text-anchor="end">81</text><text class="lb" x="823.5" y="4.5">81</text><use id="k81-1" href="#wr" x="84"/><use id="k81-2" href="#wr" x="136"/><use id="k81-3" href="#wr" x="188"/><use id="k81-4" href="#rr" x="240"/><use id="k81-5" href="#rr" x="292"/><use id="k81-6" href="#wr" x="344"/><use id="k81-7" href="#rr" x="396"/><use id="k81-8" href="#wr" x="448"/><use id="k81-9" href="#rr" x="500"/><use id="k81-10" href="#rr" x="552"/><use id="k81-11" href="#rr" x="604"/><use id="k81-12" href="#rr" x="656"/><use id="k81-13" href="#wr" x="708"/><use id="k81-14" href="#wr" x="760"/></g>
<g id="row82" transform="translate(0,4274)"><use href="#ldr" class="ln"/><text class="lb" x="21" y="4.5" text-anchor="end">82</text><text class="lb" x="823.5" y="4.5">82</text><use id="k82-1" href="#rl" x="84"/><use id="k82-2" href="#rl" x="136"/><use id="k82-3" href="#rl" x="188"/><use id="k82-4" href="#rl" x="240"/><use id="k82-5" href="#rl" x="292"/><use id="k82-6" href="#wl" x="344"/><use id="k82-7" href="#rl" x="396"/><use id="k82-8" href="#wl" x="448"/><use id="k82-9" href="#wl" x="500"/><use id="k82-10" href="#wl" x="552"/><use id="k82-11" href="#wl" x="604"/><use id="k82-12" href="#wl" x="656"/><use id="k82-13" href="#wl" x="708"/><use id="k82-14" href="#rl" x="760"/></g>
</g>
<g id="watermark">
<rect x="344" y="2160" width="156" height="14" fill="#fff" fill-opacity="0.6"/>
<text class="wm" x="422" y="2172.5" text-anchor="middle" textLength="153" lengthAdjust="spacingAndGlyphs">BRACELETBOOK.COM</text>
</g>
</svg>
